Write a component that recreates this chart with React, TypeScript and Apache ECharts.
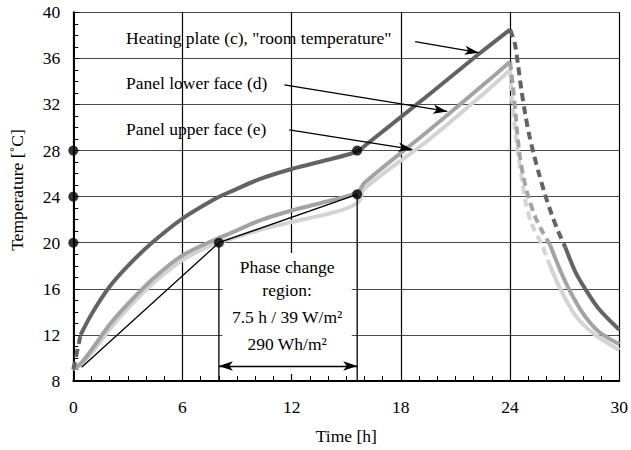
import React, { useEffect, useRef } from "react";
import * as echarts from "echarts";

// ---- data ----
const riseTime = [0, 0.4, 1, 2, 3, 4.4, 6, 7.9, 8.6, 10.2, 12, 14, 15.2, 15.7, 16, 19.5, 22.3, 24];
const plateRise = [9.0, 12.0, 13.8, 16.2, 18.0, 20.1, 22.1, 23.9, 24.4, 25.5, 26.4, 27.2, 27.7, 28.0, 28.4, 32.8, 36.4, 38.5];
const lowerRise = [9.0, 9.5, 10.7, 12.9, 14.7, 16.9, 18.9, 20.35, 20.8, 21.9, 22.8, 23.6, 24.1, 24.5, 25.2, 29.7, 33.4, 35.7];
const upperRise = [9.0, 9.4, 10.4, 12.5, 14.3, 16.5, 18.5, 20.0, 20.3, 21.1, 21.8, 22.5, 23.1, 23.6, 24.7, 28.9, 32.6, 35.0];

const plateCoolDashTime = [24, 24.26, 24.44, 24.62, 24.84, 25.06, 25.3, 25.57, 25.94, 26.3, 26.67, 27.04];
const plateCoolDash = [38.5, 37.3, 35.4, 33.3, 31.1, 29.3, 27.7, 26.1, 24.1, 22.4, 20.9, 19.6];
const plateCoolTime = [27.04, 27.58, 28.13, 28.86, 30];
const plateCool = [19.6, 17.5, 16.0, 14.3, 12.45];

const lowerCoolDashTime = [24, 24.15, 24.3, 24.5, 24.75, 25.0, 25.4, 25.8, 26.2];
const lowerCoolDash = [35.7, 33.7, 31.2, 27.9, 25.6, 24.0, 22.2, 20.9, 19.8];
const lowerCoolTime = [26.2, 27.04, 27.95, 28.86, 30];
const lowerCool = [19.8, 16.6, 14.0, 12.3, 11.2];

const upperCoolDashTime = [24, 24.1, 24.3, 24.45, 24.66, 24.88, 25.2, 25.75, 26.1];
const upperCoolDash = [35.0, 32.6, 29.4, 27.6, 25.4, 23.3, 21.6, 19.8, 18.4];
const upperCoolTime = [26.1, 26.67, 27.58, 28.68, 30];
const upperCool = [18.4, 16.3, 13.7, 12.0, 10.7];

// annotation points (data coordinates)
const markerDots = [[0, 28], [0, 24], [0, 20], [8, 20], [15.6, 28], [15.6, 24.2]];
const guideLine = [[0.46, 9.2], [8, 20], [15.6, 24.2]];
const phaseStartDrop = [[8, 20], [8, 8]];
const phaseEndDrop = [[15.6, 24.2], [15.6, 8]];
const phaseArrow = [[8, 9.3], [15.6, 9.3]];
const leaderArrows = [
  [[18.78, 37.45], [22.28, 36.5]],
  [[11.6, 33.7], [20.55, 31.4]],
  [[11.87, 29.8], [18.63, 28.1]],
];
const phaseBox = [[8.2, 19.1], [15.3, 8.6]];

const seriesLabels = ['Heating plate (c), "room temperature"', "Panel lower face (d)", "Panel upper face (e)"];
const boxLines = ["Phase change", "region:", "7.5 h / 39 W/m²", "290 Wh/m²"];

const FONT = '"Liberation Serif", "Times New Roman", serif';
const FS = 17.5;
const DARK = "#636363";
const MID = "#a3a3a3";
const LIGHT = "#d3d3d3";

const pairs = (t: number[], v: number[]) => t.map((x, i) => [x, v[i]]);

function curve(name: string, data: number[][], color: string, dashed: boolean) {
  return {
    name,
    type: "line",
    data,
    showSymbol: false,
    symbol: "none",
    smooth: 0.3,
    z: 3,
    lineStyle: { color, width: 4, type: dashed ? [8, 5] : "solid", cap: "butt" },
    silent: true,
  };
}

function thin(data: number[][]) {
  return {
    type: "line",
    data,
    symbol: "none",
    z: 4,
    lineStyle: { color: "#000", width: 1.3 },
    silent: true,
  };
}

export default function App() {
  const ref = useRef<HTMLDivElement>(null);
  useEffect(() => {
    if (!ref.current) return;
    const chart = echarts.init(ref.current, null, { renderer: "svg" });
    const option: any = {
      animation: false,
      backgroundColor: "#fff",
      textStyle: { fontFamily: FONT },
      grid: { left: 73.3, top: 12.3, right: 10, bottom: 66.7, containLabel: false },
      xAxis: {
        type: "value",
        min: 0,
        max: 30,
        interval: 6,
        name: "Time [h]",
        nameLocation: "middle",
        nameGap: 46,
        nameTextStyle: { fontFamily: FONT, fontSize: FS, color: "#000" },
        axisLine: { show: true, onZero: false, lineStyle: { color: "#000", width: 2 } },
        axisTick: { show: true, inside: true, length: 6, lineStyle: { color: "#000" } },
        minorTick: { show: true, splitNumber: 6, length: 5, lineStyle: { color: "#000" } },
        axisLabel: { fontFamily: FONT, fontSize: FS, color: "#000", margin: 17 },
        splitLine: { show: true, lineStyle: { color: "#000", width: 1.2 } },
      },
      yAxis: {
        type: "value",
        min: 8,
        max: 40,
        interval: 4,
        axisLine: { show: true, onZero: false, lineStyle: { color: "#000", width: 2 } },
        axisTick: { show: true, inside: true, length: 6, lineStyle: { color: "#000" } },
        minorTick: { show: true, splitNumber: 4, length: 5, lineStyle: { color: "#000" } },
        axisLabel: { fontFamily: FONT, fontSize: FS, color: "#000", margin: 13 },
        splitLine: { show: true, lineStyle: { color: "#4a4a4a", width: 1.2 } },
      },
      series: [
        curve("Panel upper face (e)", pairs(riseTime, upperRise), LIGHT, false),
        curve("Panel upper face (e) cooling", pairs(upperCoolDashTime, upperCoolDash), LIGHT, true),
        curve("Panel upper face (e) cooling 2", pairs(upperCoolTime, upperCool), LIGHT, false),
        curve("Panel lower face (d)", pairs(riseTime, lowerRise), MID, false),
        curve("Panel lower face (d) cooling", pairs(lowerCoolDashTime, lowerCoolDash), MID, true),
        curve("Panel lower face (d) cooling 2", pairs(lowerCoolTime, lowerCool), MID, false),
        curve("Heating plate start", pairs(riseTime.slice(0, 2), plateRise.slice(0, 2)), DARK, true),
        curve("Heating plate (c)", pairs(riseTime.slice(1), plateRise.slice(1)), DARK, false),
        curve("Heating plate (c) cooling", pairs(plateCoolDashTime, plateCoolDash), DARK, true),
        curve("Heating plate (c) cooling 2", pairs(plateCoolTime, plateCool), DARK, false),
        thin(guideLine),
        thin(phaseStartDrop),
        {
          ...thin(phaseEndDrop),
          markLine: {
            silent: true,
            symbol: ["none", "arrow"],
            symbolSize: [7, 14],
            label: { show: false },
            lineStyle: { color: "#000", width: 1.3, type: "solid" },
            data: [
              ...leaderArrows.map((a) => [
                { coord: a[0], symbol: "none" },
                { coord: a[1], symbol: "arrow" },
              ]),
              [
                { coord: phaseArrow[0], symbol: "arrow" },
                { coord: phaseArrow[1], symbol: "arrow" },
              ],
            ],
          },
        },
        {
          type: "scatter",
          data: markerDots,
          symbol: "circle",
          symbolSize: 10,
          clip: false,
          z: 5,
          itemStyle: { color: "#000" },
          silent: true,
        },
      ],
    };
    chart.setOption(option);

    const p0 = chart.convertToPixel({ gridIndex: 0 }, phaseBox[0]) as number[];
    const p1 = chart.convertToPixel({ gridIndex: 0 }, phaseBox[1]) as number[];
    const cx = (p0[0] + p1[0]) / 2;
    const textStyle = (text: string) => ({
      text,
      fontFamily: FONT,
      fontSize: FS,
      fill: "#000",
    });
    const boxYs = [267, 290, 317, 344];
    chart.setOption({
      graphic: [
        {
          type: "rect",
          z: 1,
          silent: true,
          shape: { x: p0[0], y: p0[1], width: p1[0] - p0[0], height: p1[1] - p0[1] },
          style: { fill: "#fff" },
        },
        ...boxLines.map((t, i) => ({
          type: "text",
          z: 6,
          silent: true,
          x: cx,
          y: boxYs[i],
          style: { ...textStyle(t), align: "center", verticalAlign: "middle" },
        })),
        ...seriesLabels.map((t, i) => ({
          type: "text",
          z: 6,
          silent: true,
          x: 126,
          y: [38, 83, 129][i],
          style: { ...textStyle(t), align: "left", verticalAlign: "middle" },
        })),
        {
          type: "text",
          z: 6,
          silent: true,
          x: 17,
          y: 190,
          rotation: Math.PI / 2,
          style: { ...textStyle("Temperature [˚C]"), align: "center", verticalAlign: "middle" },
        },
      ],
    });

    return () => chart.dispose();
  }, []);
  return (
    <div
      ref={ref}
      style={{ position: "fixed", left: 0, top: 0, width: 631, height: 450, background: "#fff" }}
    />
  );
}
